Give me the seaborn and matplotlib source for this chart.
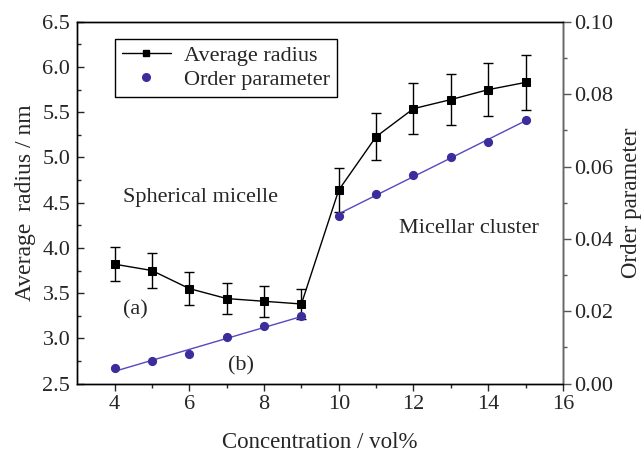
import numpy as np
import pandas as pd
import matplotlib
matplotlib.use("Agg")
import matplotlib.pyplot as plt
import seaborn as sns
from matplotlib.lines import Line2D

# ---- data ----
concentration = [4, 5, 6, 7, 8, 9, 10, 11, 12, 13, 14, 15]
avg_radius = [3.82, 3.75, 3.55, 3.44, 3.41, 3.38, 4.64, 5.23, 5.54, 5.64, 5.75, 5.83]
radius_err = [0.19, 0.19, 0.18, 0.17, 0.17, 0.17, 0.24, 0.26, 0.28, 0.28, 0.29, 0.30]
order_param = [0.0042, 0.0061, 0.0081, 0.0130, 0.0158, 0.0186,
               0.0464, 0.0525, 0.0576, 0.0626, 0.0667, 0.0729]
left_ticks = [2.5, 3.0, 3.5, 4.0, 4.5, 5.0, 5.5, 6.0, 6.5]
right_ticks = [0.00, 0.02, 0.04, 0.06, 0.08, 0.10]
x_ticks = [4, 6, 8, 10, 12, 14, 16]

df = pd.DataFrame({"c": concentration, "r": avg_radius, "e": radius_err, "op": order_param})
low = df[df.c <= 9]
high = df[df.c >= 10]

sns.set_theme(style="ticks")
plt.rcParams["font.family"] = ["Liberation Serif", "DejaVu Serif"]
plt.rcParams["mathtext.fontset"] = "stix"

fig = plt.figure(figsize=(6.44, 4.55), dpi=100)
ax = fig.add_axes([0.120, 0.157, 0.754, 0.795])
ax2 = ax.twinx()

dot_color = "#3b2e9c"
line_color = "#5548c0"

# average radius
ax.errorbar(df.c, df.r, yerr=df.e, fmt="none", ecolor="black", elinewidth=1.0,
            capsize=3.5, capthick=1.0, zorder=3)
sns.lineplot(data=df, x="c", y="r", ax=ax, color="black", linewidth=1.0,
             marker="s", markersize=6, markeredgecolor="black", zorder=4)

# order parameter
for part in (low, high):
    sns.regplot(data=part, x="c", y="op", ax=ax2, scatter=False, ci=None,
                truncate=True, line_kws={"color": line_color, "linewidth": 1.0})
sns.scatterplot(data=df, x="c", y="op", ax=ax2, color=dot_color, s=44,
                edgecolor=dot_color, linewidth=0, zorder=5)

ax.set_xlim(3, 16)
ax.set_ylim(2.5, 6.5)
ax2.set_ylim(0, 0.10)
ax.set_xticks(x_ticks)
ax.set_xticks(np.arange(5, 16, 2), minor=True)
ax.set_yticks(left_ticks)
ax.set_yticklabels([f"{v:.1f}" for v in left_ticks])
ax2.set_yticks(right_ticks)
ax2.set_yticklabels([f"{v:.2f}" for v in right_ticks])
ax.set_yticks(np.arange(2.75, 6.5, 0.5), minor=True)
ax2.set_yticks(np.arange(0.01, 0.10, 0.02), minor=True)

fs = 16
ax.tick_params(axis="x", which="major", direction="out", length=5, width=1, labelsize=fs, pad=3)
ax.tick_params(axis="x", which="minor", direction="out", length=3, width=1)
ax.tick_params(axis="y", which="major", direction="in", length=5, width=1, labelsize=fs, pad=5)
ax.tick_params(axis="y", which="minor", direction="in", length=3, width=1)
ax2.tick_params(axis="y", which="major", direction="out", length=6, width=1,
                labelsize=fs, color="#555555", pad=2)
ax2.tick_params(axis="y", which="minor", direction="out", length=3, width=1, color="#555555")

for s in ax.spines.values():
    s.set_color("black")
    s.set_linewidth(1.0)
for name, s in ax2.spines.items():
    s.set_linewidth(1.0)
    s.set_color("black")
ax2.spines["right"].set_color("#666666")

ax.set_xlabel("Concentration / vol%", fontsize=16.5, labelpad=13)
ax.set_ylabel("Average  radius / nm", fontsize=17, labelpad=5)
ax2.set_ylabel("Order parameter", fontsize=16.5, labelpad=6)

ax.text(4.23, 4.56, "Spherical micelle", fontsize=16, va="center", ha="left")
ax.text(11.62, 4.22, "Micellar cluster", fontsize=16, va="center", ha="left")
ax.text(4.22, 3.31, "(a)", fontsize=16, va="center", ha="left")
ax.text(7.04, 2.70, "(b)", fontsize=16, va="center", ha="left")

handles = [
    Line2D([], [], color="black", linewidth=1.0, marker="s", markersize=4.5),
    Line2D([], [], color=dot_color, linestyle="none", marker="o", markersize=5.5),
]
leg = ax.legend(handles, ["Average radius", "Order parameter"], loc="upper left",
                bbox_to_anchor=(0.078, 0.953), fontsize=16, frameon=True,
                fancybox=False, framealpha=1, edgecolor="black", borderpad=0.3,
                handlelength=2.2, labelspacing=0.15, handletextpad=0.6, borderaxespad=0)
leg.get_frame().set_linewidth(1.0)
leg.set_zorder(10)

fig.savefig("out.png", dpi=100)
